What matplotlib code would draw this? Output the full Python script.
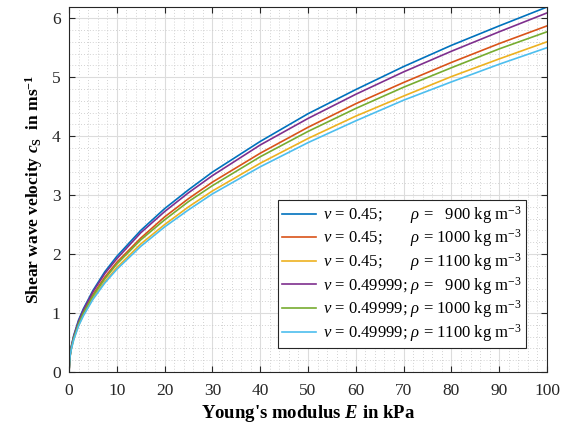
import matplotlib
matplotlib.use('Agg')
import matplotlib.pyplot as plt
from matplotlib.ticker import MultipleLocator

plt.rcParams['font.family'] = ['Liberation Serif', 'DejaVu Serif']
plt.rcParams['mathtext.fontset'] = 'custom'
plt.rcParams['mathtext.rm'] = 'Liberation Serif'
plt.rcParams['mathtext.it'] = 'Liberation Serif:italic'
plt.rcParams['mathtext.bf'] = 'Liberation Serif:bold'
plt.rcParams['mathtext.bfit'] = 'Liberation Serif:bold:italic'

# Young's modulus in kPa
E = [0, 0.2, 0.5, 1, 2, 3, 5, 7.5, 10, 15, 20, 25, 30, 40, 50, 60, 70, 80, 90, 100]

# shear wave velocity in m/s
cs_045_900 = [0, 0.28, 0.44, 0.62, 0.88, 1.07, 1.38, 1.70, 1.96, 2.40, 2.77, 3.09,
              3.39, 3.91, 4.38, 4.79, 5.18, 5.54, 5.87, 6.19]
cs_045_1000 = [0, 0.26, 0.42, 0.59, 0.83, 1.02, 1.31, 1.61, 1.86, 2.27, 2.63, 2.94,
               3.22, 3.71, 4.15, 4.55, 4.91, 5.25, 5.57, 5.87]
cs_045_1100 = [0, 0.25, 0.40, 0.56, 0.79, 0.97, 1.25, 1.53, 1.77, 2.17, 2.50, 2.80,
               3.07, 3.54, 3.96, 4.34, 4.68, 5.01, 5.31, 5.60]
cs_049_900 = [0, 0.27, 0.43, 0.61, 0.86, 1.05, 1.36, 1.67, 1.92, 2.36, 2.72, 3.04,
              3.33, 3.85, 4.30, 4.71, 5.09, 5.44, 5.77, 6.09]
cs_049_1000 = [0, 0.26, 0.41, 0.58, 0.82, 1.00, 1.29, 1.58, 1.83, 2.24, 2.58, 2.89,
               3.16, 3.65, 4.08, 4.47, 4.83, 5.16, 5.48, 5.77]
cs_049_1100 = [0, 0.25, 0.39, 0.55, 0.78, 0.95, 1.23, 1.51, 1.74, 2.13, 2.46, 2.75,
               3.02, 3.48, 3.89, 4.26, 4.61, 4.92, 5.22, 5.50]

series = [cs_045_900, cs_045_1000, cs_045_1100, cs_049_900, cs_049_1000, cs_049_1100]
labels = [
    r"$v$ = 0.45;       $\rho$ =   900 kg m$^{-3}$",
    r"$v$ = 0.45;       $\rho$ = 1000 kg m$^{-3}$",
    r"$v$ = 0.45;       $\rho$ = 1100 kg m$^{-3}$",
    r"$v$ = 0.49999; $\rho$ =   900 kg m$^{-3}$",
    r"$v$ = 0.49999; $\rho$ = 1000 kg m$^{-3}$",
    r"$v$ = 0.49999; $\rho$ = 1100 kg m$^{-3}$",
]
colors = ['#0072BD', '#D95319', '#EDB120', '#7E2F8E', '#77AC30', '#4DBEEE']

fig = plt.figure(figsize=(5.64, 4.25), dpi=100)
ax = fig.add_axes([0.1223, 0.1247, 0.8476, 0.8588])

for vals, lab, col in zip(series, labels, colors):
    ax.plot(E, vals, color=col, linewidth=1.2, label=lab)

ax.set_xlim(0, 100)
ax.set_ylim(0, max(cs_045_900))
ax.xaxis.set_major_locator(MultipleLocator(10))
ax.xaxis.set_minor_locator(MultipleLocator(2))
ax.yaxis.set_major_locator(MultipleLocator(1))
ax.yaxis.set_minor_locator(MultipleLocator(0.2))

ax.grid(True, which='major', color='#dcdcdc', linewidth=0.8)
ax.grid(True, which='minor', color='#c4c4c4', linestyle=(0, (1, 2.5)), linewidth=0.6)
ax.set_axisbelow(True)

ax.tick_params(which='major', direction='in', length=4, width=0.8, colors='#262626',
               labelsize=12.5, top=True, right=True)
ax.tick_params(axis='x', which='major', pad=8)
ax.tick_params(axis='y', which='major', pad=6)
ax.tick_params(which='minor', length=0, top=True, right=True)
for s in ax.spines.values():
    s.set_color('#262626')
    s.set_linewidth(0.8)

ax.set_xlabel(r"Young's modulus $\mathbfit{E}$ in kPa", fontsize=13.5, fontweight='bold', labelpad=3)
ax.set_ylabel(r"Shear wave velocity $\mathbfit{c}_{\mathbf{S}}$  in ms$^{\mathbf{-1}}$",
              fontsize=12.5, fontweight='bold', labelpad=5)

leg = ax.legend(loc='lower right', bbox_to_anchor=(0.956, 0.066), borderaxespad=0,
                fontsize=12, frameon=True, fancybox=False, edgecolor='#262626',
                handlelength=2.0, labelspacing=0.1, borderpad=0.25, handletextpad=0.45)
leg.get_frame().set_linewidth(0.8)
leg.get_frame().set_alpha(1)

fig.savefig('out.png', dpi=100)
